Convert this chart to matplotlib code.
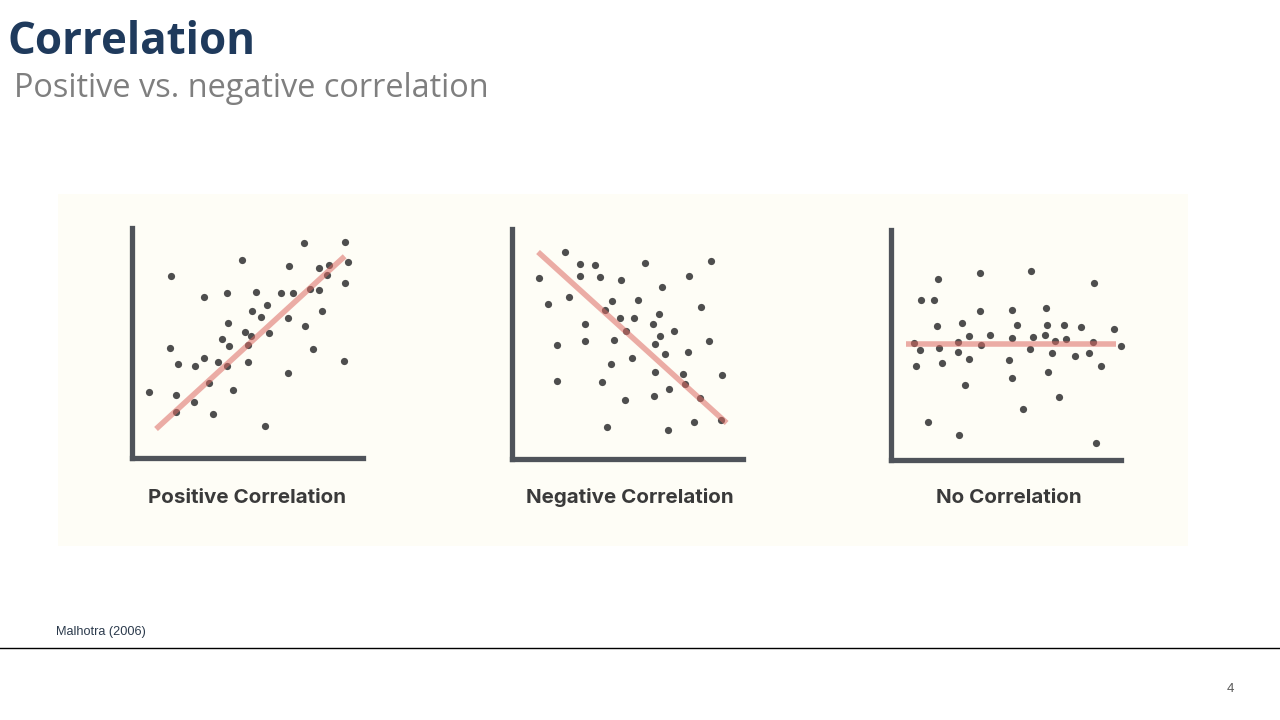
import matplotlib.pyplot as plt
from matplotlib.patches import Rectangle
import numpy as np

# values, in units of the drawn axes (0..~690)
POS_X = [52, 117, 115, 138, 133, 132, 186, 190, 215, 216, 230, 242, 258, 269, 285, 287,
         292, 284, 302, 329, 338, 356, 347, 348, 359, 371, 387, 405, 409, 398, 446, 471,
         481, 468, 466, 516, 519, 534, 543, 559, 561, 570, 585, 590, 637, 648, 639, 636]
POS_Y = [198, 545, 329, 282, 190, 137, 169, 277, 300, 484, 225, 132, 288, 356, 494, 406,
         337, 277, 205, 593, 378, 365, 338, 288, 440, 498, 422, 460, 376, 95, 495, 576,
         494, 419, 254, 646, 396, 508, 327, 505, 571, 440, 550, 580, 649, 589, 526, 290]
POS_LINE_X = [72, 637]
POS_LINE_Y = [87, 605]

NEG_X = [82, 107, 158, 204, 204, 172, 250, 265, 327, 398, 597, 530, 449, 299, 378, 279,
         324, 365, 440, 220, 136, 220, 306, 342, 422, 442, 484, 428, 566, 591, 457, 527,
         359, 297, 428, 513, 629, 134, 270, 519, 471, 425, 338, 563, 546, 625, 285, 467]
NEG_Y = [543, 466, 622, 586, 550, 486, 582, 545, 538, 588, 593, 550, 515, 475, 477, 446,
         423, 423, 434, 405, 342, 353, 356, 385, 405, 369, 385, 346, 457, 353, 316, 321,
         303, 285, 262, 255, 253, 233, 230, 224, 210, 188, 176, 182, 111, 117, 95, 88]
NEG_LINE_X = [78, 643]
NEG_LINE_Y = [621, 108]

NONE_X = [68, 86, 75, 90, 128, 140, 138, 145, 154, 111, 201, 201, 213, 234, 235, 222,
          206, 269, 269, 272, 297, 355, 364, 365, 378, 365, 398, 421, 417, 428, 462, 467,
          469, 471, 484, 494, 505, 521, 528, 555, 572, 597, 607, 611, 631, 618, 671, 693]
NONE_Y = [351, 329, 281, 480, 480, 543, 403, 336, 292, 113, 354, 324, 412, 372, 304, 226,
          75, 562, 448, 344, 374, 301, 450, 365, 405, 247, 152, 568, 333, 369, 376, 455,
          405, 263, 322, 356, 190, 405, 363, 312, 399, 322, 353, 532, 281, 52, 392, 342]
NONE_LINE_X = [46, 676]
NONE_LINE_Y = [349, 349]

PANEL_TITLES = ["Positive Correlation", "Negative Correlation", "No Correlation"]

NAVY = "#1f3a5c"
SPINE = "#4f535a"
DOT = "#4e4e4e"
TREND = "#dc6a63"
PANEL_BG = "#fefdf6"


def draw_panel(fig, ax, x, y, line_x, line_y, title, label_x):
    ax.set_facecolor(PANEL_BG)
    ax.scatter(x, y, s=27, color=DOT, linewidths=0, zorder=2, clip_on=False)
    ax.plot(line_x, line_y, color=TREND, lw=4.0, alpha=0.55, solid_capstyle="butt",
            zorder=3, clip_on=False)
    ax.set_xlim(0, 692)
    ax.set_ylim(0, 690)
    for side in ("top", "right"):
        ax.spines[side].set_visible(False)
    for side in ("left", "bottom"):
        ax.spines[side].set_color(SPINE)
        ax.spines[side].set_linewidth(3.8)
        ax.spines[side].set_capstyle("projecting")
    ax.set_xticks([])
    ax.set_yticks([])
    fig.text(label_x / 1280, 1 - 503 / 720, title, ha="center", va="baseline",
             fontsize=14.8, fontweight="bold", family="Inter", color="#3a3a3a")


def main():
    fig = plt.figure(figsize=(12.8, 7.2), dpi=100)
    fig.patch.set_facecolor("white")

    fig.patches.append(Rectangle((58 / 1280, 1 - 546 / 720), 1130 / 1280, 352 / 720,
                                 transform=fig.transFigure, facecolor=PANEL_BG,
                                 edgecolor="none", zorder=-1))

    panels = [
        ([132 / 1280, 1 - 458 / 720, 231 / 1280, 230 / 720], POS_X, POS_Y, POS_LINE_X, POS_LINE_Y, 247),
        ([512 / 1280, 1 - 459 / 720, 231 / 1280, 230 / 720], NEG_X, NEG_Y, NEG_LINE_X, NEG_LINE_Y, 630),
        ([891 / 1280, 1 - 460 / 720, 230 / 1280, 230 / 720], NONE_X, NONE_Y, NONE_LINE_X, NONE_LINE_Y, 1009),
    ]
    for (rect, x, y, lx, ly, label_x), title in zip(panels, PANEL_TITLES):
        ax = fig.add_axes(rect)
        draw_panel(fig, ax, np.array(x), np.array(y), lx, ly, title, label_x)

    fig.text(8 / 1280, 1 - 54 / 720, "Correlation", ha="left", va="baseline",
             fontsize=31.6, fontweight="bold", family="Open Sans", color=NAVY)
    fig.text(14 / 1280, 1 - 97 / 720, "Positive vs. negative correlation", ha="left",
             va="baseline", fontsize=23.4, family="Open Sans", color="#7f7f7f")

    fig.text(56 / 1280, 1 - 635 / 720, "Malhotra (2006)", ha="left", va="baseline",
             fontsize=9.2, family="Liberation Sans", color="#2b3a4c")
    fig.add_artist(plt.Line2D([0, 1], [1 - 647.5 / 720] * 2, transform=fig.transFigure,
                              color="black", lw=1))
    fig.text(1230 / 1280, 1 - 692 / 720, "4", ha="center", va="baseline",
             fontsize=9.5, family="Liberation Sans", color="#595959")

    fig.savefig("out.png", dpi=100, facecolor=fig.get_facecolor())


if __name__ == "__main__":
    main()
